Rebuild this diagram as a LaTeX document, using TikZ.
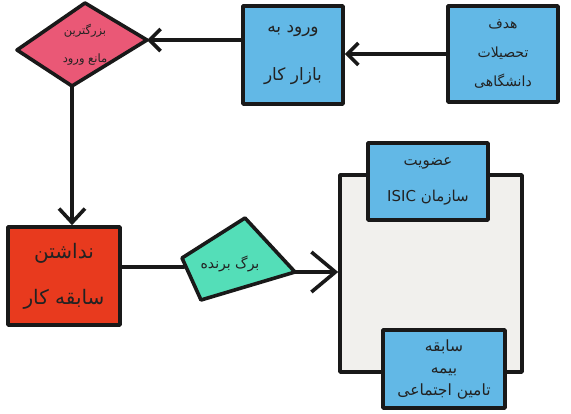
\documentclass[tikz,border=0pt]{standalone}
\usepackage{fontspec}
\newfontfamily\fa[Script=Arabic]{DejaVu Sans}
\TeXXeTstate=1
\usetikzlibrary{arrows.meta}
\definecolor{boxblue}{RGB}{98,184,230}
\definecolor{diapink}{RGB}{234,88,118}
\definecolor{boxred}{RGB}{232,58,30}
\definecolor{flaggreen}{RGB}{84,222,184}
\definecolor{contgray}{RGB}{241,240,237}
\definecolor{inkcol}{RGB}{34,34,34}
\newcommand{\rl}[1]{\beginR #1\endR}
\begin{document}
\begin{tikzpicture}[x=1pt,y=-1pt,
  ink/.style={line width=3.6pt, draw=black!90, line cap=round, line join=round},
  bluebox/.style={ink, fill=boxblue, rectangle, inner sep=0pt, align=center, text=inkcol},
  redbox/.style={ink, fill=boxred, rectangle, inner sep=0pt, align=center, text=inkcol},
  contbox/.style={ink, fill=contgray, rectangle, inner sep=0pt},
  lbl/.style={text=inkcol, inner sep=0pt, align=center},
  arrA/.style={ink, -{Straight Barb[length=11pt,width=22pt,line width=3.6pt]}},
  arrB/.style={ink, -{Straight Barb[length=14pt,width=26pt,line width=3.6pt]}},
  arrC/.style={ink, -{Straight Barb[length=24pt,width=40pt,line width=3.6pt]}}]
\useasboundingbox (0,0) rectangle (571,413);

% top row
\node[bluebox, minimum width=110, minimum height=96,
      font=\fa\fontsize{14}{29}\selectfont] (hadaf) at (503,54)
  {\rl{هدف}\\\rl{تحصیلات}\\\rl{دانشگاهی}};
\node[bluebox, minimum width=100, minimum height=98,
      font=\fa\fontsize{17}{48}\selectfont] (vorud) at (293,55)
  {\rl{ورود به}\\\rl{بازار کار}};

% diamond
\coordinate (d1) at (17,50);
\coordinate (d2) at (85,3);
\coordinate (d3) at (147,40);
\coordinate (d4) at (72,86);
\draw[ink, fill=diapink] (d1) -- (d2) -- (d3) -- (d4) -- cycle;
\node[lbl, font=\fa\fontsize{11.5}{28}\selectfont] (diatext) at (85,45)
  {\rl{بزرگترین}\\\rl{مانع ورود}};

% red box
\node[redbox, minimum width=112, minimum height=98,
      font=\fa\fontsize{20}{46}\selectfont] (red) at (64,276)
  {\rl{نداشتن}\\\rl{سابقه کار}};

% green flag
\coordinate (g1) at (182,258);
\coordinate (g2) at (245,218);
\coordinate (g3) at (295,272);
\coordinate (g4) at (201,300);
\draw[ink, fill=flaggreen] (g1) -- (g2) -- (g3) -- (g4) -- cycle;
\node[lbl, font=\fa\fontsize{14}{16}\selectfont] (gtext) at (230,264) {\rl{برگ برنده}};
\coordinate (gin) at (184,267);

% container and its boxes
\node[contbox, minimum width=182, minimum height=197] (cont) at (431,273.5) {};
\node[bluebox, minimum width=120, minimum height=77,
      font=\fa\fontsize{15}{36}\selectfont] (isic) at (428,181.5)
  {\rl{عضویت}\\\rl{سازمان \beginL ISIC\endL}};
\node[bluebox, minimum width=122, minimum height=78,
      font=\fa\fontsize{15.5}{22}\selectfont] (bime) at (444,369)
  {\rl{سابقه}\\\rl{بیمه}\\\rl{تامین اجتماعی}};

% connectors
\draw[arrA] (hadaf.west) -- (vorud.east |- hadaf.west);
\draw[arrA] (vorud.west |- d3) -- (d3);
\draw[arrB] (d4) -- (red.north -| d4);
\draw[ink] (red.east |- gin) -- (gin);
\draw[arrC] (g3) -- (cont.west |- g3);
\end{tikzpicture}
\end{document}
